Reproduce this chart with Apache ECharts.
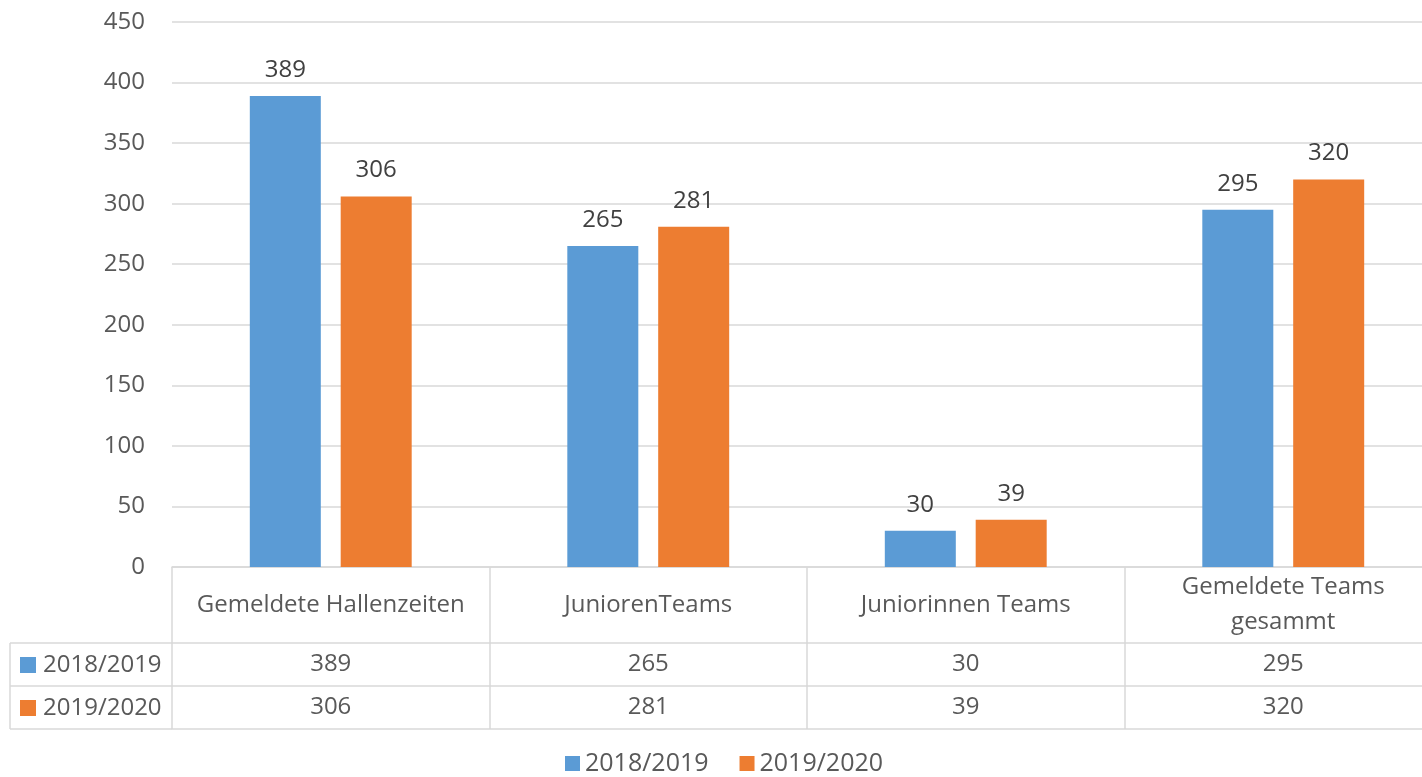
<!DOCTYPE html>
<html>
<head>
<meta charset="utf-8">
<script src="https://cdn.jsdelivr.net/npm/echarts@6/dist/echarts.min.js"></script>
<style>
html, body { margin: 0; padding: 0; background: #fff; }
#main { width: 1422px; height: 777px; }
</style>
</head>
<body>
<div id="main"></div>
<script>
var categories = ['Gemeldete Hallenzeiten', 'JuniorenTeams', 'Juniorinnen Teams', 'Gemeldete Teams\ngesammt'];
var seriesNames = ['2018/2019', '2019/2020'];
var values1819 = [389, 265, 30, 295];
var values1920 = [306, 281, 39, 320];
var colors = ['#5b9bd5', '#ed7d31'];

var FONT = '"Open Sans", "Noto Sans", sans-serif';
var TXT = '#595959';
var LINE = '#d9d9d9';

var myChart = echarts.init(document.getElementById('main'));

// table rows underneath the plot, one category axis per row
function tableAxis(offset, rowValues, margin) {
    return {
        type: 'category',
        gridIndex: 0,
        position: 'bottom',
        offset: offset,
        data: categories,
        axisLine: { show: true, lineStyle: { color: LINE, width: 1.5 } },
        axisTick: { show: false },
        axisLabel: {
            show: !!rowValues,
            interval: 0,
            margin: margin,
            verticalAlign: 'middle',
            fontFamily: FONT,
            fontSize: 24,
            color: TXT,
            formatter: function (v, i) { return rowValues ? String(rowValues[i]) : ''; }
        }
    };
}

function rowHeader(y, color, name) {
    return [
        { type: 'rect', shape: { x: 20, y: y - 8, width: 16, height: 16 }, style: { fill: color } },
        { type: 'text', x: 43, y: y, style: { text: name, fill: TXT, font: '24px ' + FONT, verticalAlign: 'middle' } }
    ];
}

function hLine(x1, x2, y) {
    return { type: 'line', shape: { x1: x1, y1: y, x2: x2, y2: y }, style: { stroke: LINE, lineWidth: 1.5 } };
}

var option = {
    animation: false,
    color: colors,
    textStyle: { fontFamily: FONT },
    // plot area runs a little past the right edge of the canvas, like the original
    grid: { left: 172, right: -20, top: 22, bottom: 210, containLabel: false, outerBoundsMode: 'none' },
    legend: {
        bottom: -4,
        left: 560,
        icon: 'rect',
        itemWidth: 15,
        itemHeight: 15,
        itemGap: 31,
        textStyle: { fontFamily: FONT, fontSize: 25, color: TXT },
        data: seriesNames
    },
    xAxis: [
        {
            type: 'category',
            gridIndex: 0,
            position: 'bottom',
            data: categories,
            axisLine: { show: true, lineStyle: { color: LINE, width: 1.5 } },
            axisTick: { show: true, interval: 0, length: 162, lineStyle: { color: LINE, width: 1.5 } },
            axisLabel: {
                interval: 0,
                margin: 38,
                verticalAlign: 'middle',
                lineHeight: 35,
                fontFamily: FONT,
                fontSize: 24,
                color: TXT
            }
        },
        tableAxis(76, values1819, 21),
        tableAxis(119, values1920, 21),
        tableAxis(162, null, 0)
    ],
    yAxis: {
        type: 'value',
        min: 0,
        max: 450,
        interval: 50,
        axisLine: { show: false },
        axisTick: { show: false },
        splitLine: { lineStyle: { color: LINE, width: 1.5 } },
        axisLabel: { margin: 27, fontFamily: FONT, fontSize: 24, color: TXT }
    },
    series: [
        {
            name: seriesNames[0],
            type: 'bar',
            barWidth: 71,
            barGap: '28%',
            data: values1819,
            label: { show: true, position: 'top', distance: 14, fontFamily: FONT, fontSize: 24, color: '#404040' }
        },
        {
            name: seriesNames[1],
            type: 'bar',
            barWidth: 71,
            barGap: '28%',
            data: values1920,
            label: { show: true, position: 'top', distance: 14, fontFamily: FONT, fontSize: 24, color: '#404040' }
        }
    ],
    graphic: [
        hLine(10, 172, 643),
        hLine(10, 172, 686),
        hLine(10, 172, 729),
        { type: 'line', shape: { x1: 10, y1: 643, x2: 10, y2: 729 }, style: { stroke: LINE, lineWidth: 1.5 } }
    ].concat(rowHeader(665, colors[0], seriesNames[0]), rowHeader(708, colors[1], seriesNames[1]))
};

myChart.setOption(option);
</script>
</body>
</html>
